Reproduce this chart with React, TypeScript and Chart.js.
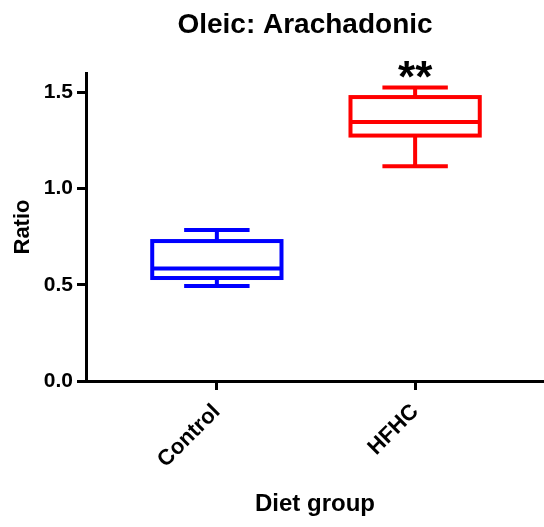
import React, { useEffect, useRef } from 'react';
import { Chart, registerables } from 'chart.js';

Chart.register(...registerables);

// ---- data ----
const categories = ['Control', 'HFHC'];
const whiskerLow = [0.494, 1.115];
const q1 = [0.535, 1.275];
const median = [0.585, 1.345];
const q3 = [0.727, 1.475];
const whiskerHigh = [0.784, 1.525];
const significance = ['', '**'];
const boxColors = ['#0000FF', '#FF0000'];
const yTicks = [0, 0.5, 1.0, 1.5];
const titleText = 'Oleic: Arachadonic';
const xTitle = 'Diet group';
const yTitle = 'Ratio';

const FONT = '"Liberation Sans", Arial, sans-serif';

const boxPlugin = {
  id: 'boxPlot',
  afterDatasetsDraw(chart: any) {
    const { ctx, scales } = chart;
    const xs = scales.x;
    const ys = scales.y;
    const spacing = xs.getPixelForValue(1) - xs.getPixelForValue(0);
    const boxHalf = spacing * 0.326;
    const capHalf = spacing * 0.165;
    ctx.save();
    ctx.lineWidth = 4;
    ctx.lineCap = 'butt';
    ctx.lineJoin = 'miter';
    categories.forEach((_, i) => {
      const x = xs.getPixelForValue(i);
      const yLow = ys.getPixelForValue(whiskerLow[i]);
      const yQ1 = ys.getPixelForValue(q1[i]);
      const yMed = ys.getPixelForValue(median[i]);
      const yQ3 = ys.getPixelForValue(q3[i]);
      const yHigh = ys.getPixelForValue(whiskerHigh[i]);
      ctx.strokeStyle = boxColors[i];
      ctx.beginPath();
      ctx.moveTo(x, yHigh);
      ctx.lineTo(x, yQ3);
      ctx.moveTo(x, yQ1);
      ctx.lineTo(x, yLow);
      ctx.moveTo(x - capHalf, yHigh);
      ctx.lineTo(x + capHalf, yHigh);
      ctx.moveTo(x - capHalf, yLow);
      ctx.lineTo(x + capHalf, yLow);
      ctx.moveTo(x - boxHalf, yMed);
      ctx.lineTo(x + boxHalf, yMed);
      ctx.stroke();
      ctx.strokeRect(x - boxHalf, yQ3, boxHalf * 2, yQ1 - yQ3);
      if (significance[i]) {
        ctx.fillStyle = '#000';
        ctx.font = `bold 44px ${FONT}`;
        ctx.textAlign = 'center';
        ctx.textBaseline = 'alphabetic';
        ctx.fillText(significance[i], x, yHigh + 5);
      }
    });
    ctx.restore();
  },
  afterDraw(chart: any) {
    const { ctx } = chart;
    ctx.save();
    ctx.fillStyle = '#000';
    ctx.font = `bold 28px ${FONT}`;
    ctx.textAlign = 'center';
    ctx.textBaseline = 'alphabetic';
    ctx.fillText(titleText, 305, 33);
    ctx.restore();
  },
};

export default function App() {
  const canvasRef = useRef<HTMLCanvasElement | null>(null);

  useEffect(() => {
    if (!canvasRef.current) return;
    Chart.defaults.font.family = FONT;
    const chart = new Chart(canvasRef.current, {
      type: 'scatter',
      data: {
        datasets: [
          {
            data: categories.map((_, i) => ({ x: i, y: median[i] })),
            pointRadius: 0,
            showLine: false,
          },
        ],
      },
      options: {
        animation: false,
        responsive: false,
        layout: { padding: { top: 73, left: 0, right: 0, bottom: 0 } },
        plugins: {
          legend: { display: false },
          tooltip: { enabled: false },
          title: { display: false },
        },
        scales: {
          x: {
            type: 'linear',
            min: -0.66,
            max: 1.65,
            afterBuildTicks: (s: any) => {
              s.ticks = categories.map((_, i) => ({ value: i }));
            },
            afterFit: (s: any) => {
              s.height = 146;
            },
            ticks: {
              autoSkip: false,
              minRotation: 45,
              maxRotation: 45,
              padding: 9,
              color: '#000',
              font: { size: 22, weight: 'bold', family: FONT },
              callback: (v: any) => categories[v] ?? '',
            },
            grid: {
              drawOnChartArea: false,
              drawTicks: true,
              tickLength: 9,
              color: '#000',
              lineWidth: 3,
            },
            border: { display: true, color: '#000', width: 3 },
            title: {
              display: true,
              text: xTitle,
              color: '#000',
              font: { size: 24, weight: 'bold', family: FONT },
              padding: { top: 0, bottom: 8 },
            },
          },
          y: {
            type: 'linear',
            min: 0,
            max: 1.6,
            afterBuildTicks: (s: any) => {
              s.ticks = yTicks.map((v) => ({ value: v }));
            },
            afterFit: (s: any) => {
              s.width = 86;
            },
            ticks: {
              padding: 4,
              color: '#000',
              font: { size: 21, weight: 'bold', family: FONT },
              callback: (v: any) => Number(v).toFixed(1),
            },
            grid: {
              drawOnChartArea: false,
              drawTicks: true,
              tickLength: 9,
              color: '#000',
              lineWidth: 3,
            },
            border: { display: true, color: '#000', width: 3 },
            title: {
              display: true,
              text: yTitle,
              color: '#000',
              font: { size: 22, weight: 'bold', family: FONT },
              padding: { top: 10, bottom: 0 },
            },
          },
        },
      },
      plugins: [boxPlugin],
    } as any);
    return () => chart.destroy();
  }, []);

  return (
    <div style={{ position: 'fixed', left: 0, top: 0, width: 544, height: 527, background: '#fff' }}>
      <canvas ref={canvasRef} width={544} height={527} style={{ display: 'block' }} />
    </div>
  );
}
